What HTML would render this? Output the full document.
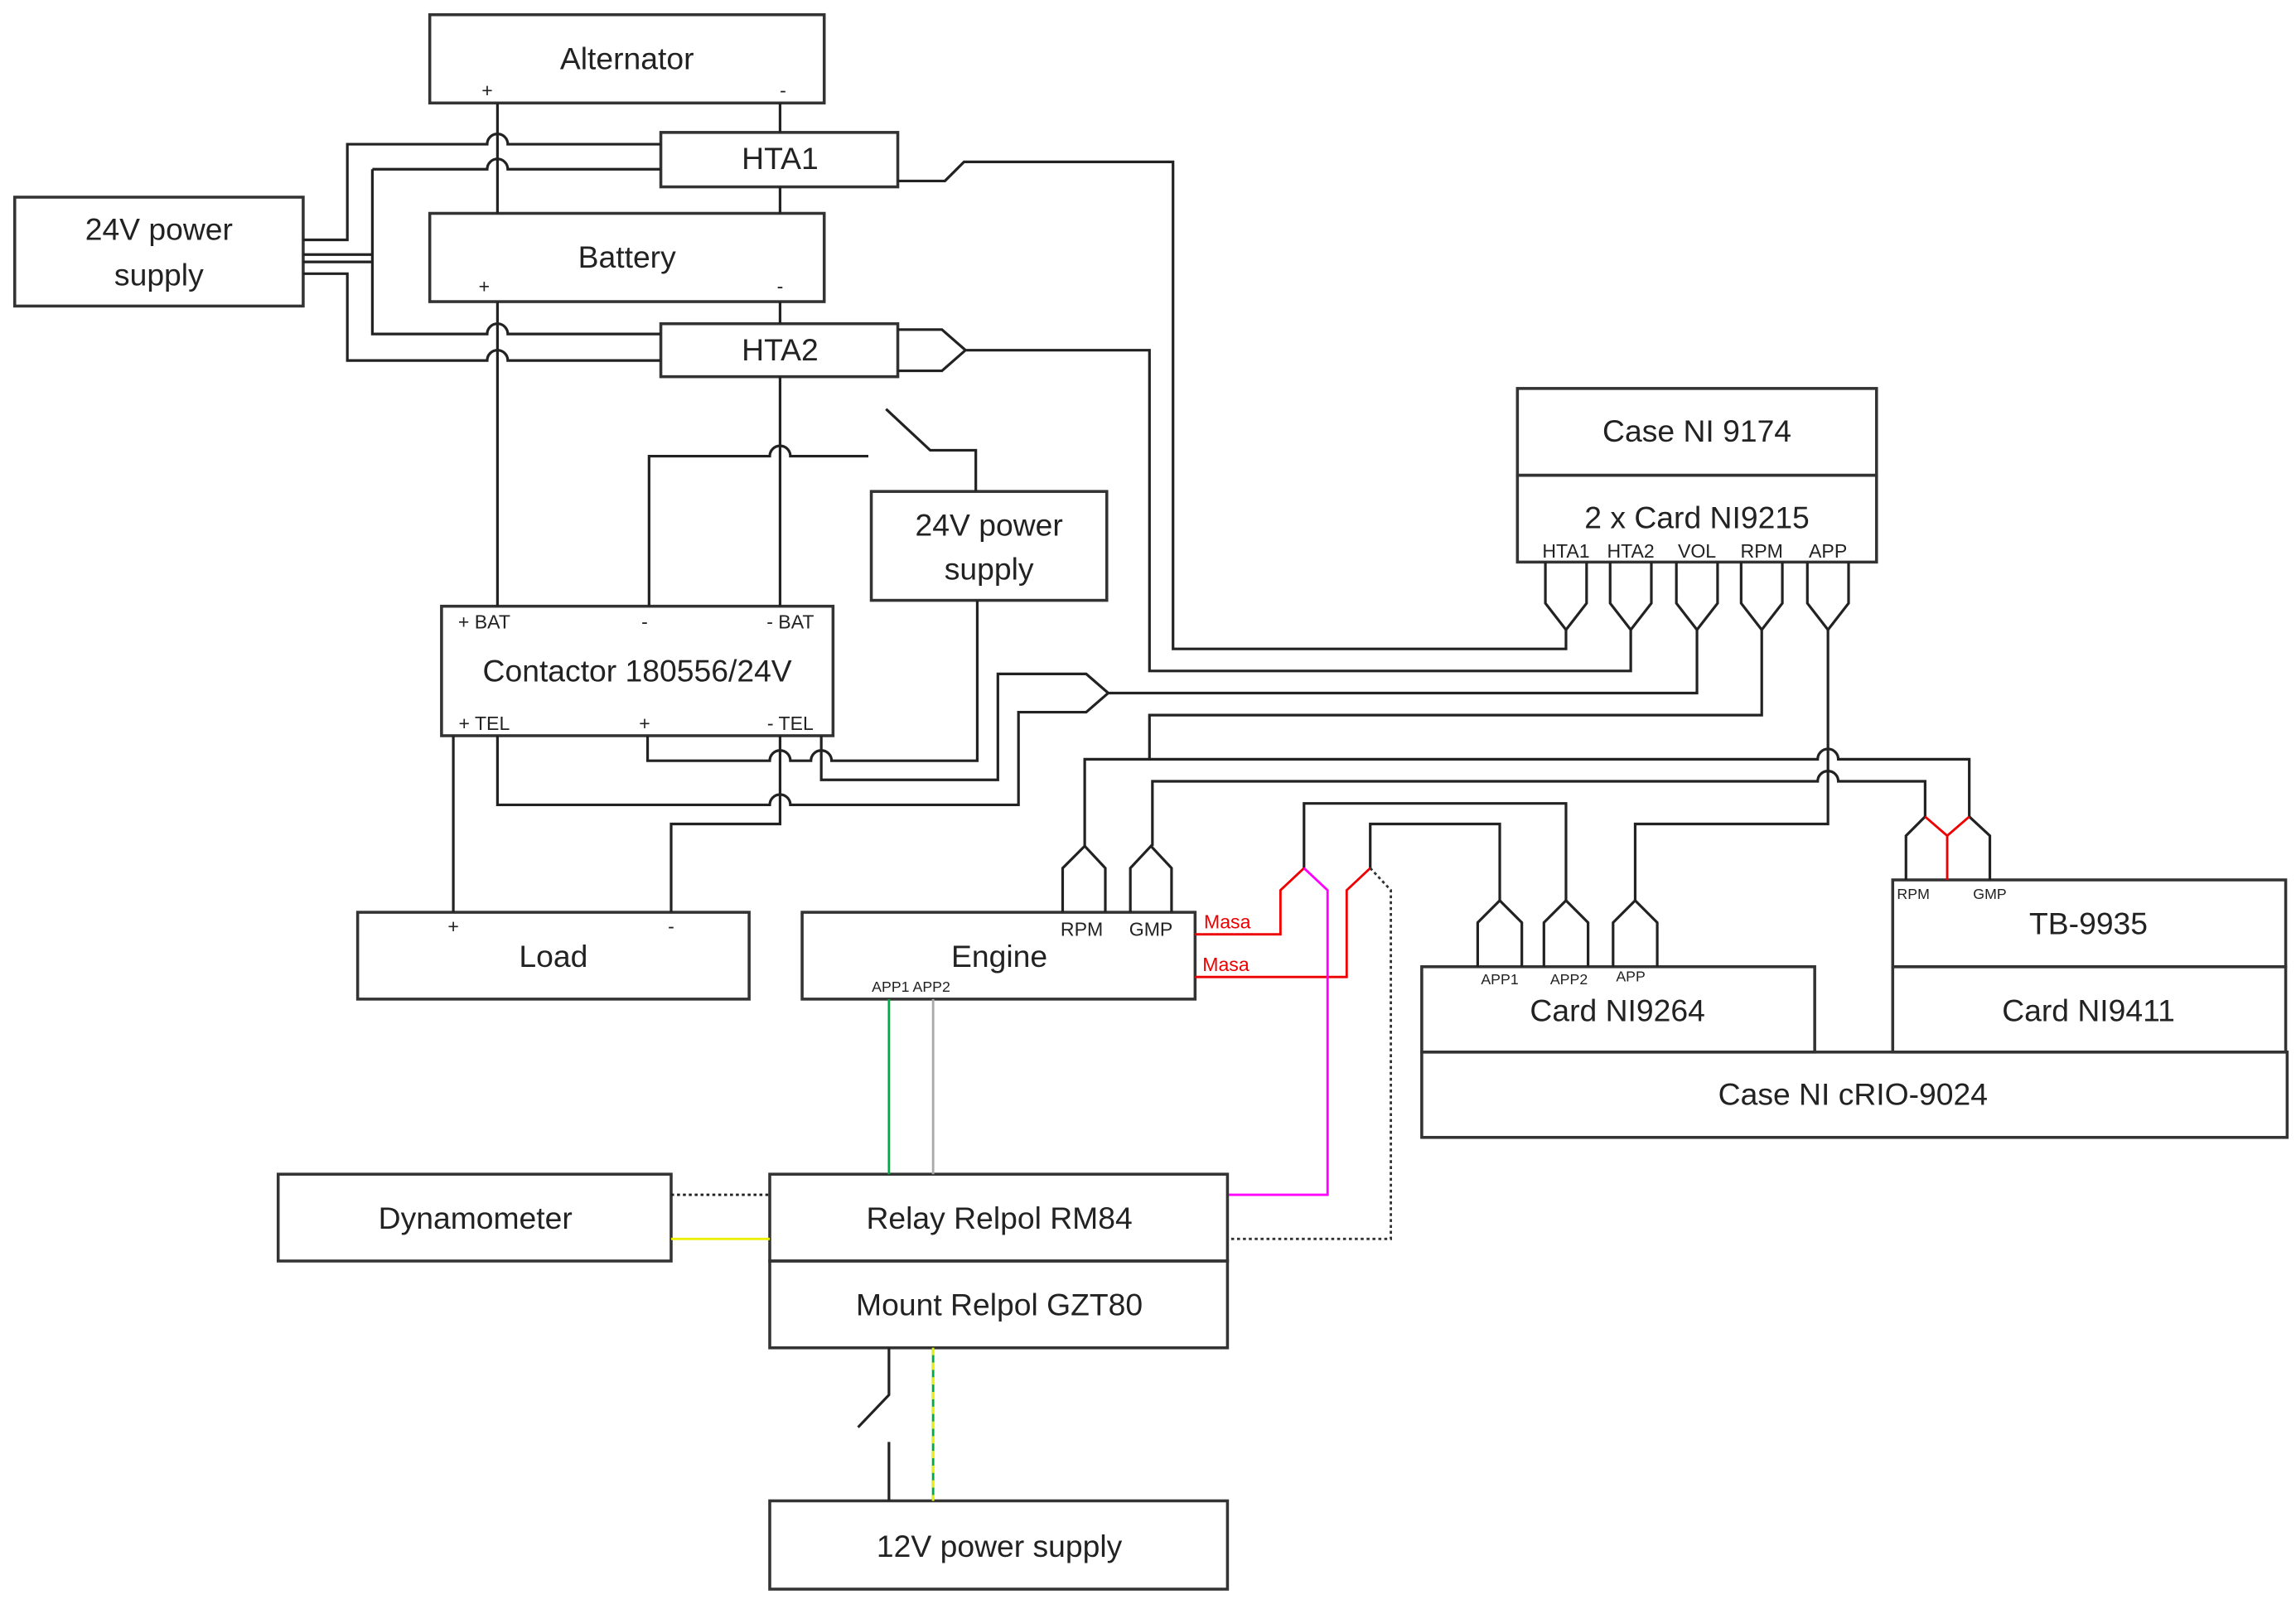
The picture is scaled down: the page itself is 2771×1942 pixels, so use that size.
<!DOCTYPE html>
<html><head><meta charset="utf-8"><style>
html,body{margin:0;padding:0;background:#fff;}
svg{display:block;}
text{font-family:"Liberation Sans",sans-serif;fill:#222;}
</style></head><body>
<svg width="2771" height="1942" viewBox="0 0 1560 1093.5" preserveAspectRatio="none" xmlns="http://www.w3.org/2000/svg">
<g fill="none" stroke="#333" stroke-width="2">
<!-- boxes -->
<rect x="292" y="10" width="268" height="60"/>
<rect x="449" y="90" width="161" height="37"/>
<rect x="10" y="134" width="196" height="74"/>
<rect x="292" y="145" width="268" height="60"/>
<rect x="449" y="220" width="161" height="36"/>
<rect x="592" y="334" width="160" height="74"/>
<rect x="300" y="412" width="266" height="88"/>
<rect x="243" y="620" width="266" height="59"/>
<rect x="545" y="620" width="267" height="59"/>
<rect x="1031" y="264" width="244" height="59"/>
<rect x="1031" y="323" width="244" height="59"/>
<rect x="189" y="798" width="267" height="59"/>
<rect x="523" y="798" width="311" height="59"/>
<rect x="523" y="857" width="311" height="59"/>
<rect x="523" y="1020" width="311" height="60"/>
<rect x="966" y="657" width="267" height="58"/>
<rect x="966" y="715" width="588" height="58"/>
<rect x="1286" y="598" width="267" height="59"/>
<rect x="1286" y="657" width="267" height="58"/>
</g>
<g fill="none" stroke="#222" stroke-width="1.8">
<path d="M338 70V145M338 205V412"/>
<path d="M530 70V90M530 127V145M530 205V220M530 256V412"/>
<path d="M206 163H236V98H331a7 7 0 0 1 14 0H449"/>
<path d="M206 173H253M206 178H253M253 115H331a7 7 0 0 1 14 0H449M253 115V227H331a7 7 0 0 1 14 0H449"/>
<path d="M206 186H236V245H331a7 7 0 0 1 14 0H449"/>
<path d="M610 123H642L655 110H797V441H1064V428"/>
<path d="M610 224H640L656 238L640 252H610M656 238H781V456H1108V428"/>
<path d="M1153 428V471H753L738 458H678V530H558V500M753 471L738 484H692V547H537a7 7 0 0 0 -14 0H338V500"/>
<path d="M441 412V310H523a7 7 0 0 1 14 0H590M602 278L632 306H663V334"/>
<path d="M440 500V517H523a7 7 0 0 1 14 0H551a7 7 0 0 1 14 0H664V408"/>
<path d="M530 500V560H456V620M308 500V620"/>
<path d="M1197 428V486H781V516M737 575V516H1235a7 7 0 0 1 14 0H1338V555M783 575V531H1235a7 7 0 0 1 14 0H1308V555"/>
<path d="M1242 428V560H1111V612M1019 612V560H931V590M1064 612V546H886V590"/>
<path d="M722 620V590L737 575L751 590V620M768 620V590L782 575L796 590V620"/>
<path d="M1050 382V410L1064 428L1078 410V382M1094 382V410L1108 428L1122 410V382M1139 382V410L1153 428L1167 410V382M1183 382V410L1197 428L1211 410V382M1228 382V410L1242 428L1256 410V382"/>
<path d="M1004 657V627L1019 612L1034 627V657M1049 657V627L1064 612L1079 627V657M1096 657V627L1111 612L1126 627V657"/>
<path d="M1295 598V568L1308 555M1338 555L1352 568V598"/>
<path d="M604 916V948L583 970M604 980V1020"/>
</g>
<g fill="none" stroke-width="1.6">
<path d="M1308 555L1323 568L1338 555M1323 568V598" stroke="#e00"/>
<path d="M812 635H870V605L886 590M812 664H915V605L931 590" stroke="#e00"/>
<path d="M886 590L902 605V812H835" stroke="#f0f"/>
<path d="M931 590L945 605V842H835" stroke="#333" stroke-dasharray="2 2"/>
<path d="M604 679V798" stroke="#0a4"/>
<path d="M634 679V798" stroke="#aaa"/>
<path d="M456 812H523" stroke="#222" stroke-dasharray="2 2"/>
<path d="M456 842H523" stroke="#ee0"/>
<path d="M634 916V1020" stroke="#0a4"/>
<path d="M634 916V1020" stroke="#ee0" stroke-dasharray="5 5"/>
</g>
<g font-size="21" text-anchor="middle">
<text x="426" y="47">Alternator</text>
<text x="530" y="115">HTA1</text>
<text x="108" y="163">24V power</text>
<text x="108" y="194">supply</text>
<text x="426" y="182">Battery</text>
<text x="530" y="245">HTA2</text>
<text x="672" y="364">24V power</text>
<text x="672" y="394">supply</text>
<text x="433" y="463">Contactor  180556/24V</text>
<text x="376" y="657">Load</text>
<text x="679" y="657">Engine</text>
<text x="1153" y="300">Case NI 9174</text>
<text x="1153" y="359">2 x Card NI9215</text>
<text x="323" y="835">Dynamometer</text>
<text x="679" y="835">Relay Relpol RM84</text>
<text x="679" y="894">Mount Relpol GZT80</text>
<text x="679" y="1058">12V power supply</text>
<text x="1099" y="694">Card NI9264</text>
<text x="1419" y="635">TB-9935</text>
<text x="1419" y="694">Card NI9411</text>
<text x="1259" y="751">Case NI cRIO-9024</text>
</g>
<g font-size="13" text-anchor="middle">
<text x="331" y="66">+</text><text x="532" y="66">-</text>
<text x="329" y="199">+</text><text x="530" y="199">-</text>
<text x="329" y="427">+ BAT</text><text x="438" y="427">-</text><text x="537" y="427">- BAT</text>
<text x="329" y="496">+ TEL</text><text x="438" y="496">+</text><text x="537" y="496">- TEL</text>
<text x="308" y="634">+</text><text x="456" y="634">-</text>
<text x="735" y="636">RPM</text><text x="782" y="636">GMP</text>
<text x="1064" y="379">HTA1</text><text x="1108" y="379">HTA2</text><text x="1153" y="379">VOL</text><text x="1197" y="379">RPM</text><text x="1242" y="379">APP</text>
</g>
<g font-size="10" text-anchor="middle">
<text x="619" y="674">APP1 APP2</text>
<text x="1019" y="669">APP1</text><text x="1066" y="669">APP2</text><text x="1108" y="667">APP</text>
<text x="1300" y="611">RPM</text><text x="1352" y="611">GMP</text>
</g>
<g font-size="13" fill="#e00">
<text x="818" y="631" style="fill:#e00">Masa</text>
<text x="817" y="660" style="fill:#e00">Masa</text>
</g>
</svg>
</body></html>
